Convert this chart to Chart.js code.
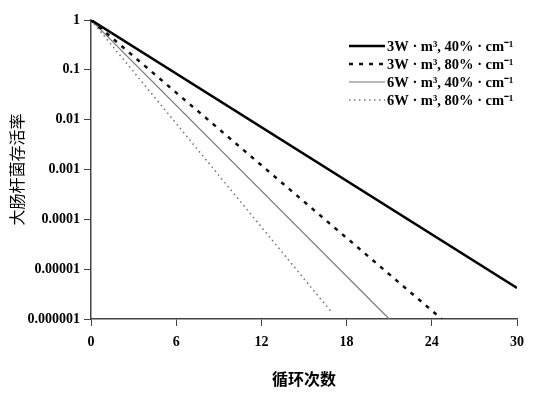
<!DOCTYPE html>
<html>
<head>
<meta charset="utf-8">
<script src="https://cdn.jsdelivr.net/npm/chart.js@4"></script>
<style>
  html, body { margin: 0; padding: 0; background: #fff; }
</style>
</head>
<body>
<canvas id="chart" width="542" height="393"></canvas>
<script>
// 数据
var seriesNames = ['3W · m³, 40% · cm⁻¹', '3W · m³, 80% · cm⁻¹', '6W · m³, 40% · cm⁻¹', '6W · m³, 80% · cm⁻¹'];
var cycles1 = [0, 30];
var surv1 = [1, 4.2e-6];
var cycles2 = [0, 24.7];
var surv2 = [1, 1e-6];
var cycles3 = [0, 21];
var surv3 = [1, 1e-6];
var cycles4 = [0, 17];
var surv4 = [1, 1.3e-6];
var xTicks = [0, 6, 12, 18, 24, 30];
var yTicks = [1, 0.1, 0.01, 0.001, 0.0001, 0.00001, 0.000001];
var yTickLabels = ['1', '0.1', '0.01', '0.001', '0.0001', '0.00001', '0.000001'];

function pts(xs, ys) {
    return xs.map(function (x, i) { return { x: x, y: ys[i] }; });
}

var tickFont = { family: 'Liberation Serif', size: 14, weight: 'bold' };
var axisColor = '#444';

// 图例（画在绘图区右上角）
var legendPlugin = {
    id: 'innerLegend',
    afterDraw: function (chart) {
        var ctx = chart.ctx;
        ctx.save();
        chart.data.datasets.forEach(function (ds, i) {
            var y = 46 + i * 18;
            ctx.beginPath();
            ctx.strokeStyle = ds.borderColor;
            ctx.lineWidth = ds.borderWidth;
            ctx.setLineDash(ds.borderDash || []);
            ctx.moveTo(349, y);
            ctx.lineTo(385, y);
            ctx.stroke();
            ctx.setLineDash([]);
            ctx.fillStyle = '#000';
            ctx.font = 'bold 14.5px "Liberation Serif"';
            ctx.textAlign = 'left';
            ctx.textBaseline = 'middle';
            ctx.fillText(ds.label, 387, y + 1);
        });
        ctx.restore();
    }
};

var chart = new Chart(document.getElementById('chart').getContext('2d'), {
    type: 'line',
    data: {
        datasets: [
            { label: seriesNames[0], data: pts(cycles1, surv1), borderColor: '#000', borderWidth: 2.5 },
            { label: seriesNames[1], data: pts(cycles2, surv2), borderColor: '#111', borderWidth: 2.5, borderDash: [4, 6] },
            { label: seriesNames[2], data: pts(cycles3, surv3), borderColor: '#777', borderWidth: 1.2 },
            { label: seriesNames[3], data: pts(cycles4, surv4), borderColor: '#777', borderWidth: 1.6, borderDash: [1.5, 3.5] }
        ]
    },
    options: {
        responsive: false,
        animation: false,
        layout: { padding: { top: 20, right: 25, left: 0, bottom: 0 } },
        elements: { point: { radius: 0 }, line: { tension: 0 } },
        plugins: { legend: { display: false }, tooltip: { enabled: false } },
        scales: {
            x: {
                type: 'linear',
                min: 0,
                max: 30,
                afterBuildTicks: function (s) { s.ticks = xTicks.map(function (v) { return { value: v }; }); },
                afterFit: function (s) { s.height = 74; },
                grid: { drawOnChartArea: false, drawTicks: true, tickLength: 7, color: axisColor },
                border: { color: axisColor, width: 1.5 },
                ticks: { font: tickFont, color: '#000', padding: 8, maxRotation: 0 },
                title: {
                    display: true, text: '循环次数',
                    font: { family: 'Noto Sans CJK SC', size: 16, weight: 'bold' }, color: '#000',
                    padding: { top: 0, bottom: 4 }
                }
            },
            y: {
                type: 'logarithmic',
                min: 0.000001,
                max: 1,
                afterBuildTicks: function (s) { s.ticks = yTicks.map(function (v) { return { value: v }; }); },
                afterFit: function (s) { s.width = 91; },
                grid: { drawOnChartArea: false, drawTicks: true, tickLength: 7, color: axisColor },
                border: { color: axisColor, width: 1.5 },
                ticks: {
                    font: tickFont, color: '#000', padding: 4,
                    callback: function (v) {
                        var i = yTicks.indexOf(v);
                        return i >= 0 ? yTickLabels[i] : '';
                    }
                },
                title: {
                    display: true, text: '大肠杆菌存活率',
                    font: { family: 'Noto Sans CJK SC', size: 16 }, color: '#000',
                    padding: { top: 7, bottom: 0 }
                }
            }
        }
    },
    plugins: [legendPlugin]
});
</script>
</body>
</html>
